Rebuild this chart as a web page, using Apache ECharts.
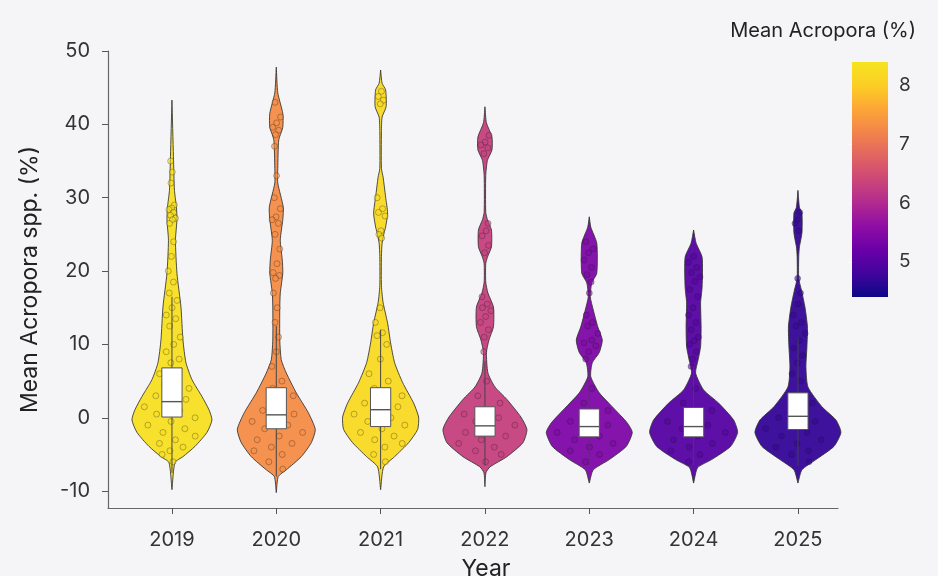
<!DOCTYPE html>
<html>
<head>
<meta charset="utf-8">
<script src="https://cdn.jsdelivr.net/npm/echarts@6/dist/echarts.min.js"></script>
<style>
  html, body { margin: 0; padding: 0; background: #f5f5f8; }
  #chart { width: 938px; height: 576px; }
</style>
</head>
<body>
<div id="chart"></div>
<script>
// years and the mean cover per year (drives the colour)
const years = [2019, 2020, 2021, 2022, 2023, 2024, 2025];
const means = [8.3, 7.3, 8.2, 6.3, 5.4, 5.0, 4.7];

// box plot stats
const boxQ1 = [0.1, -1.5, -1.2, -2.5, -2.6, -2.6, -1.6];
const boxMedian = [2.2, 0.4, 1.1, -1.1, -1.2, -1.2, 0.2];
const boxQ3 = [6.8, 4.1, 4.1, 1.5, 1.2, 1.4, 3.4];
const whiskerLow = [-7.5, -8, -7, -6.5, -6.5, -6.5, -6.5];
const whiskerHigh = [16.5, 12.5, 12, 7.7, 6.9, 7.0, 10.9];

// violin density profiles: [value, density]
const v2019 = [[-9.8,0],[-6.1,3],[-5.3,11],[-3.9,23],[-2.0,35],[-0.3,40],[1.1,37],[2.9,30],[5.2,20],[7.5,14],[10.6,11],[15.1,9],[19.7,5],[24.2,3.5],[27,5],[28.7,4.5],[31,2.5],[35.6,1.5],[43.3,0]];
const v2020 = [[-10.2,0],[-8,2],[-7.1,10],[-5.3,25],[-3.4,35],[-1.6,39],[0.7,32],[3.4,20],[6.1,10],[7.9,5],[10.6,3.5],[15.1,3.5],[17,4],[19.7,6.5],[21.5,6],[24.2,4],[27,6.5],[28.7,7],[32,1.5],[34,1.5],[37.9,2.5],[39.6,6.5],[41.5,6.5],[44.3,1.5],[47.8,0]];
const v2021 = [[-9.8,0],[-6.7,3],[-5.3,14],[-3.4,28],[-1.6,37],[0.1,38],[2.0,33],[4.8,22],[7.5,14],[10.2,10],[12.9,7],[15.7,2.5],[18,0.8],[22,0.8],[23.8,1.5],[25.2,3.5],[26,5],[27.9,7],[30.1,5],[32.8,2.5],[34,0.8],[39,0.8],[41,1.5],[42.4,5.5],[44.7,5],[45.6,1.5],[47.4,0]];
const v2022 = [[-9.4,0],[-7.5,1],[-6.7,5],[-5.3,22],[-3.4,38],[-1.6,42],[0.1,36],[2.5,22],[4.2,10],[6.1,3],[8.9,1.5],[10.6,4],[12.4,8.5],[15.1,8.5],[17,3],[18.5,0.8],[21,0.8],[21.9,2.5],[23.3,6.5],[25.6,6.5],[27,2.5],[28,0.8],[33,0.8],[35.1,2.5],[36.5,7],[38.3,7],[40.2,1.5],[42.4,0]];
const v2023 = [[-8.9,0],[-7.1,4],[-5.7,20],[-3.9,37],[-2.0,43],[-0.7,38],[1.5,23],[3.4,10],[5.6,1.5],[7.5,3],[8.9,10],[10.6,13],[12.4,8.5],[14.7,4],[16.5,1],[18.4,2.5],[19.7,7.5],[23.8,7.5],[26,1.5],[27.4,0]];
const v2024 = [[-8.9,0],[-6.8,4],[-5.7,18],[-3.9,37],[-2.0,44],[-0.3,40],[2.0,25],[3.8,10],[6.1,2],[7.9,4.5],[9.7,7],[12.4,7.5],[15.7,7],[17.8,8.5],[21.9,8.5],[23.8,2.5],[25.6,0]];
const v2025 = [[-8.9,0],[-7.1,4],[-5.7,18],[-3.9,36],[-2.0,43],[-0.3,38],[1.5,24],[4.2,10],[6.9,8],[9.7,9],[12.4,9.5],[15.1,7],[17.4,3.5],[19,0.8],[22,0.8],[23.3,1.5],[25.2,4],[27.9,4],[28.7,1.5],[31,0]];
const profiles = [v2019, v2020, v2021, v2022, v2023, v2024, v2025];

// observations (visible points)
const p2019 = [35,33.5,32,29,28.6,28.4,28,27.6,27.2,27,26.5,24,22,20,18.5,17,16,15,14,13.5,12.5,11,10,9,8,7.5,6,5,4.5,4,3.5,3,2.5,2,1.5,1,0.5,0,-0.5,-1,-1.5,-2,-2.5,-3,-3.5,-4,-4.5,-5,-6];
const p2020 = [43,41,40.2,39.6,39.2,38.6,37,33,30,28.5,27.4,27,26.5,25,23,21,19.8,19.4,19,17,15,13,11,9,7,5,4,3,2,1,0.5,0,-0.5,-1,-1.5,-2,-2.5,-3,-3.5,-4,-4.5,-5,-6,-7];
const p2021 = [44.5,43.8,43.3,42.8,30,28.5,28,27.5,25.5,25,24.5,15,13,11.6,11.2,10,8,6,5,4,3,2.5,2,1.5,1,0.5,0,-0.5,-1,-1.5,-2,-2.5,-3,-3.5,-4,-5,-6];
const p2022 = [38.5,37.6,37.2,36.8,36,26.5,25.5,24.8,23.5,22.5,16.5,15.5,15,14.6,13.8,13,12,11,9,5,3,2,1,0.5,0,-0.5,-1,-1.5,-2,-2.5,-3,-3.5,-4,-4.5,-5,-6];
const p2023 = [24,23,22.5,21.5,20.5,19.5,18.5,17,14,13,12.5,11.5,10.6,10.2,9.8,9,8,4,2,1,0,-0.5,-1,-1.5,-2,-2.5,-3,-3.5,-4,-4.5,-5,-6];
const p2024 = [22,21.2,20.5,19.8,19.2,18.6,17.5,16.5,15,14,13,12,11,10.5,10,9,8,7,4,2,1,0,-0.5,-1,-1.5,-2,-2.5,-3,-3.5,-4,-4.5,-5,-6];
const p2025 = [28,27,26.5,25.5,19,17,15.5,14,13,12.5,11.5,10.5,9.5,8.5,7.5,6,5,3,2,1,0,-0.5,-1,-1.5,-2,-2.5,-3,-3.5,-4,-4.5,-5,-6];
const points = [p2019, p2020, p2021, p2022, p2023, p2024, p2025];

const yTicks = [-10, 0, 10, 20, 30, 40, 50];
const colorTicks = [5, 6, 7, 8];

const plasma = ['#0d0887','#41049d','#6a00a8','#8f0da4','#b12a90','#cc4778','#e16462','#f2844b','#fca636','#fcce25','#f5e41f'];
const widthScale = 1 / 104.33;   // density unit -> x units
const boxHalf = 0.097;
const fontFam = 'Inter, "Noto Sans", sans-serif';

function halfWidthAt(prof, v) {
  for (let i = 1; i < prof.length; i++) {
    if (v <= prof[i][0]) {
      const a = prof[i - 1], b = prof[i];
      const t = (v - a[0]) / (b[0] - a[0]);
      return a[1] + (b[1] - a[1]) * Math.max(0, Math.min(1, t));
    }
  }
  return 0;
}

// scatter points: jitter inside violin width (deterministic)
const scatterData = [];
points.forEach((arr, k) => {
  arr.forEach((v, i) => {
    const frac = (i * 0.618034 + k * 0.3) % 1;
    const hw = halfWidthAt(profiles[k], v) * widthScale;
    scatterData.push([years[k] + (frac - 0.5) * 2 * hw * 0.8, v, means[k]]);
  });
});

const chart = echarts.init(document.getElementById('chart'));

chart.setOption({
  backgroundColor: '#f5f5f8',
  animation: false,
  title: {
    text: 'Mean Acropora (%)',
    right: 17, top: 16,
    textStyle: { fontFamily: fontFam, fontSize: 20, fontWeight: 'normal', color: '#222' }
  },
  grid: [
    { left: 108, top: 51, right: 100, bottom: 68, outerBoundsMode: 'none', containLabel: false },
    { left: 852, top: 62, width: 36, height: 235, outerBoundsMode: 'none', containLabel: false }
  ],
  visualMap: {
    type: 'continuous', show: false,
    min: 4.4, max: 8.4, dimension: 2, seriesIndex: [0, 1],
    inRange: { color: plasma }
  },
  xAxis: [{
    type: 'value', gridIndex: 0,
    min: 2018.387, max: 2025.384,
    name: 'Year', nameLocation: 'middle', nameGap: 50,
    nameTextStyle: { fontFamily: fontFam, fontSize: 23, color: '#222', padding: [0, 0, 0, 26] },
    splitLine: { show: false },
    axisLine: { show: true, onZero: false, lineStyle: { color: '#666', width: 1.2 } },
    axisTick: { show: true, length: 6, lineStyle: { color: '#555' }, customValues: years },
    axisLabel: { customValues: years, margin: 22, fontFamily: fontFam, fontSize: 20, color: '#333',
      formatter: v => String(v) }
  }, {
    type: 'value', gridIndex: 1, min: 0, max: 1, show: false
  }],
  yAxis: [{
    type: 'value', gridIndex: 0,
    min: -12.3, max: 50,
    name: 'Mean Acropora spp. (%)', nameLocation: 'middle', nameGap: 66,
    nameTextStyle: { fontFamily: fontFam, fontSize: 23, color: '#222' },
    splitLine: { show: false },
    axisLine: { show: true, onZero: false, lineStyle: { color: '#666', width: 1.2 } },
    axisTick: { show: true, length: 6, lineStyle: { color: '#555' }, customValues: yTicks },
    axisLabel: { customValues: yTicks, margin: 18, fontFamily: fontFam, fontSize: 20, color: '#333' }
  }, {
    type: 'value', gridIndex: 1, position: 'right',
    min: 4.4, max: 8.4,
    splitLine: { show: false },
    axisLine: { show: false },
    axisTick: { show: true, inside: true, length: 4, lineStyle: { color: 'rgba(255,255,255,0.6)' }, customValues: [5, 6, 7] },
    axisLabel: { customValues: colorTicks, margin: 11, fontFamily: fontFam, fontSize: 19, color: '#333' }
  }],
  series: [{
    type: 'custom',
    name: 'violin',
    xAxisIndex: 0, yAxisIndex: 0,
    data: years.map((y, i) => [y, 0, means[i]]),
    encode: { x: 0, y: 1 },
    z: 2,
    renderItem: (params, api) => {
      const k = params.dataIndex;
      const x = api.value(0);
      const prof = profiles[k];
      const pts = [];
      prof.forEach(p => pts.push(api.coord([x + p[1] * widthScale, p[0]])));
      for (let i = prof.length - 1; i >= 0; i--) {
        pts.push(api.coord([x - prof[i][1] * widthScale, prof[i][0]]));
      }
      return {
        type: 'polygon',
        shape: { points: pts, smooth: 0.2 },
        style: { fill: api.visual('color'), opacity: 0.95, stroke: '#333', lineWidth: 0.9 }
      };
    }
  }, {
    type: 'scatter',
    name: 'points',
    xAxisIndex: 0, yAxisIndex: 0,
    data: scatterData,
    symbolSize: 6,
    z: 3,
    itemStyle: { opacity: 0.55, borderColor: 'rgba(30,30,30,0.8)', borderWidth: 0.7 }
  }, {
    type: 'custom',
    name: 'box',
    xAxisIndex: 0, yAxisIndex: 0,
    data: years.map((y, i) => [y, boxMedian[i], boxQ1[i], boxQ3[i], whiskerLow[i], whiskerHigh[i]]),
    encode: { x: 0, y: 1 },
    z: 4,
    renderItem: (params, api) => {
      const x = api.value(0);
      const lo = api.coord([x, api.value(4)]);
      const hi = api.coord([x, api.value(5)]);
      const tl = api.coord([x - boxHalf, api.value(3)]);
      const br = api.coord([x + boxHalf, api.value(2)]);
      const ml = api.coord([x - boxHalf, api.value(1)]);
      const mr = api.coord([x + boxHalf, api.value(1)]);
      return {
        type: 'group',
        children: [
          { type: 'line', shape: { x1: lo[0], y1: lo[1], x2: hi[0], y2: hi[1] },
            style: { stroke: '#444', lineWidth: 1 } },
          { type: 'rect', shape: { x: tl[0], y: tl[1], width: br[0] - tl[0], height: br[1] - tl[1] },
            style: { fill: '#ffffff', stroke: '#555', lineWidth: 1 } },
          { type: 'line', shape: { x1: ml[0], y1: ml[1], x2: mr[0], y2: mr[1] },
            style: { stroke: '#555', lineWidth: 1.4 } }
        ]
      };
    }
  }, {
    type: 'custom',
    name: 'colorbar',
    xAxisIndex: 1, yAxisIndex: 1,
    data: [[0, 4.4, 8.4]],
    z: 1,
    renderItem: (params, api) => {
      const tl = api.coord([0, api.value(2)]);
      const br = api.coord([1, api.value(1)]);
      const stops = plasma.slice().reverse().map((c, i) => ({ offset: i / (plasma.length - 1), color: c }));
      return {
        type: 'rect',
        shape: { x: tl[0], y: tl[1], width: br[0] - tl[0], height: br[1] - tl[1] },
        style: { fill: new echarts.graphic.LinearGradient(0, 0, 0, 1, stops) }
      };
    }
  }]
});
</script>
</body>
</html>
